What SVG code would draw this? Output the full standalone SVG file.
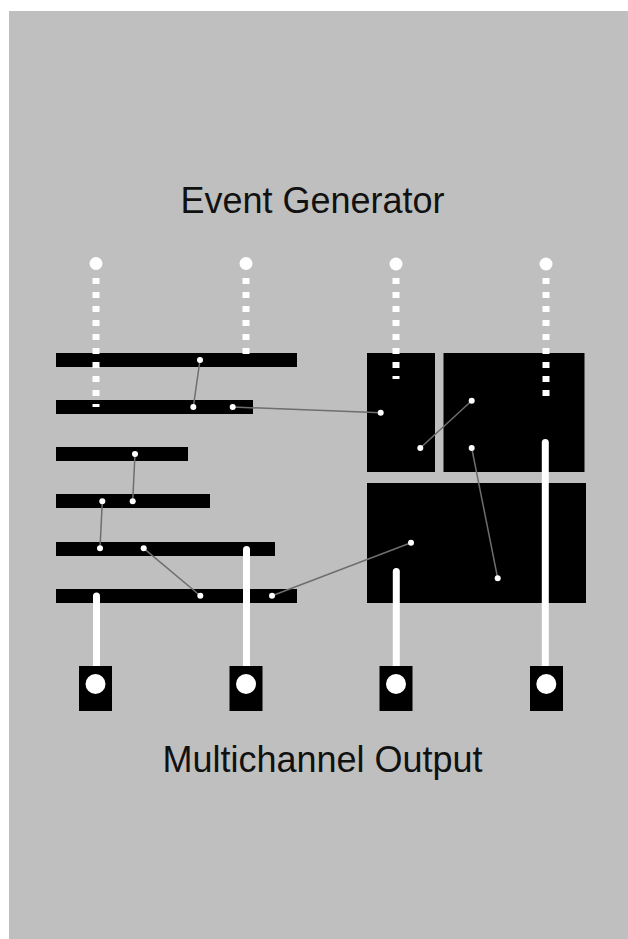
<svg xmlns="http://www.w3.org/2000/svg" width="628" height="939" viewBox="0 0 628 939">
<style>
.lbl{font-family:"Liberation Sans",Arial,sans-serif;font-size:36px;fill:#111;text-anchor:middle}
.blk{fill:#000}
.dash{stroke:#fff;stroke-width:7;stroke-dasharray:6 8;fill:none}
.out{stroke:#fff;stroke-width:7;stroke-linecap:round;fill:none}
.src{fill:#fff}
.dot{fill:#fff}
.conn line{stroke:#6e6e6e;stroke-width:1.5}
</style>
<rect width="628" height="939" fill="#fff"/>
<rect x="9" y="11" width="619" height="928" fill="#bfbfbf"/>
<text id="title" class="lbl" x="312.5" y="212.5">Event Generator</text>
<text id="footer" class="lbl" x="322.5" y="771.5">Multichannel Output</text>
<g id="bars">
<rect id="bar1" class="blk" x="56" y="353" width="241" height="14"/>
<rect id="bar2" class="blk" x="56" y="400" width="197" height="14"/>
<rect id="bar3" class="blk" x="56" y="447" width="132" height="14"/>
<rect id="bar4" class="blk" x="56" y="494" width="154" height="14"/>
<rect id="bar5" class="blk" x="56" y="542" width="219" height="14"/>
<rect id="bar6" class="blk" x="56" y="589" width="241" height="14"/>
</g>
<g id="boxes">
<rect id="boxA" class="blk" x="367" y="353" width="68" height="119"/>
<rect id="boxB" class="blk" x="443.5" y="353" width="141" height="119"/>
<rect id="boxC" class="blk" x="367" y="483" width="219" height="120"/>
</g>
<g id="sources">
<g id="src1"><circle class="src" cx="96" cy="263.5" r="6.5"/><line class="dash" x1="96" y1="278" x2="96" y2="407"/></g>
<g id="src2"><circle class="src" cx="246" cy="263.5" r="6.5"/><line class="dash" x1="246" y1="278" x2="246" y2="354"/></g>
<g id="src3"><circle class="src" cx="396" cy="264" r="6.5"/><line class="dash" x1="396" y1="278" x2="396" y2="379"/></g>
<g id="src4"><circle class="src" cx="546" cy="264" r="6.5"/><line class="dash" x1="546" y1="278" x2="546" y2="396"/></g>
</g>
<g id="outlines">
<line class="out" x1="96.5" y1="596" x2="96.5" y2="668"/>
<line class="out" x1="246.5" y1="549.5" x2="246.5" y2="668"/>
<line class="out" x1="396.3" y1="571.5" x2="396.3" y2="668"/>
<line class="out" x1="545.3" y1="442.5" x2="545.3" y2="668"/>
</g>
<g class="conn" id="connectors">
<line x1="200" y1="360" x2="193.3" y2="407"/>
<line x1="232.7" y1="407" x2="380.7" y2="412.7"/>
<line x1="135" y1="454" x2="132.7" y2="501.3"/>
<line x1="102.3" y1="501.3" x2="100" y2="548.3"/>
<line x1="143.7" y1="548.3" x2="200.3" y2="595.7"/>
<line x1="272" y1="595.7" x2="411" y2="542.7"/>
<line x1="420.3" y1="448" x2="471.7" y2="400.7"/>
<line x1="471.7" y1="448" x2="497.7" y2="578.3"/>
</g>
<g id="dots">
<circle class="dot" cx="200" cy="360" r="3"/>
<circle class="dot" cx="193.3" cy="407" r="3"/>
<circle class="dot" cx="232.7" cy="407" r="3"/>
<circle class="dot" cx="380.7" cy="412.7" r="3"/>
<circle class="dot" cx="135" cy="454" r="3"/>
<circle class="dot" cx="132.7" cy="501.3" r="3"/>
<circle class="dot" cx="102.3" cy="501.3" r="3"/>
<circle class="dot" cx="100" cy="548.3" r="3"/>
<circle class="dot" cx="143.7" cy="548.3" r="3"/>
<circle class="dot" cx="200.3" cy="595.7" r="3"/>
<circle class="dot" cx="272" cy="595.7" r="3"/>
<circle class="dot" cx="411" cy="542.7" r="3"/>
<circle class="dot" cx="420.3" cy="448" r="3"/>
<circle class="dot" cx="471.7" cy="400.7" r="3"/>
<circle class="dot" cx="471.7" cy="448" r="3"/>
<circle class="dot" cx="497.7" cy="578.3" r="3"/>
</g>
<g id="outputs">
<g id="out1"><rect class="blk" x="79" y="666" width="33" height="45"/><circle class="src" cx="95.5" cy="684" r="10"/></g>
<g id="out2"><rect class="blk" x="229.5" y="666" width="33" height="45"/><circle class="src" cx="246" cy="684" r="10"/></g>
<g id="out3"><rect class="blk" x="379.5" y="666" width="33" height="45"/><circle class="src" cx="396" cy="684" r="10"/></g>
<g id="out4"><rect class="blk" x="530" y="666" width="33" height="45"/><circle class="src" cx="546.3" cy="684" r="10"/></g>
</g>
</svg>
